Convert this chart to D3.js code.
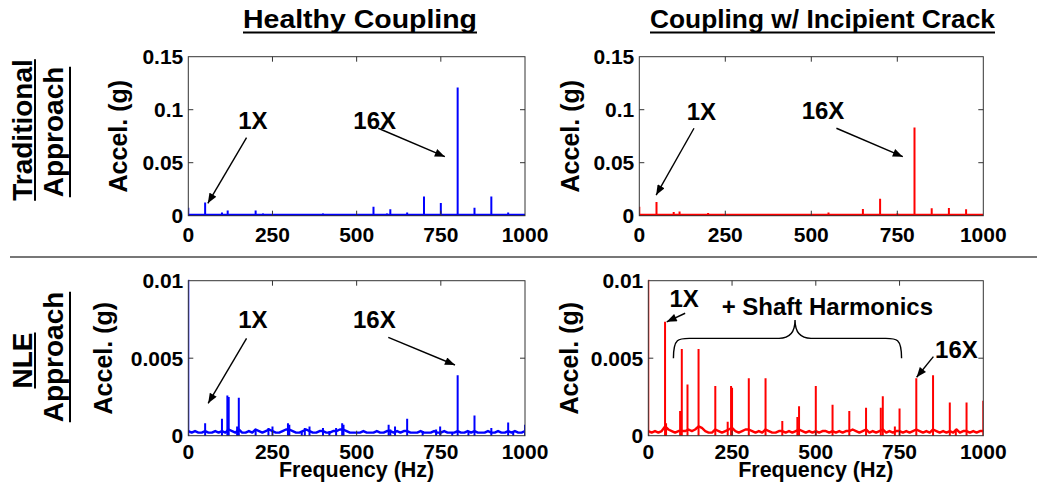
<!DOCTYPE html>
<html><head><meta charset="utf-8">
<script src="https://cdn.jsdelivr.net/npm/d3@7"></script>
<style>
html,body{margin:0;padding:0;background:#fff;}
text{font-family:"Liberation Sans",Arial,sans-serif;font-weight:bold;fill:#000;}
</style></head>
<body><svg id="c" width="1037" height="491"></svg>
<script>
// ---------- data ----------
const xTicks = [0, 250, 500, 750, 1000];
const xTickLabels = ["0", "250", "500", "750", "1000"];
const yTicksTop = [0, 0.05, 0.1, 0.15];
const yTickLabelsTop = ["0", "0.05", "0.1", "0.15"];
const yTicksBottom = [0, 0.005, 0.01];
const yTickLabelsBottom = ["0", "0.005", "0.01"];

const colTitles = ["Healthy Coupling", "Coupling w/ Incipient Crack"];
const rowTitles = [["Traditional", "Approach"], ["NLE", "Approach"]];
const yLabel = "Accel. (g)";
const xLabel = "Frequency (Hz)";

// Traditional, healthy (blue)
const tlPeakFreq = [0, 50, 100, 117, 200, 222, 400, 550, 590, 600, 650, 700, 750, 800, 850, 900, 950];
const tlPeakAmp  = [0.0075, 0.0125, 0.003, 0.005, 0.005, 0.002, 0.002, 0.0085, 0.002, 0.006, 0.003, 0.018, 0.012, 0.121, 0.0075, 0.018, 0.003];
const tlFloor = [0.0008, 0.0008];

// Traditional, cracked (red)
const trPeakFreq = [0, 50, 100, 117, 200, 550, 600, 650, 700, 750, 800, 850, 900, 950];
const trPeakAmp  = [0.0085, 0.013, 0.0035, 0.004, 0.0025, 0.003, 0.0015, 0.0063, 0.016, 0.002, 0.0833, 0.007, 0.0072, 0.006];
const trFloor = [0.0008, 0.0008];

// NLE, healthy (blue)
const blPeakFreq = [0, 50, 100, 116, 120, 145, 150, 200, 238, 250, 296, 300, 337, 346, 360, 400, 419, 439, 457, 461, 595, 600, 614, 650, 696, 736, 748, 784, 800, 832, 850, 900, 950, 965, 1000];
const blPeakAmp  = [0.012, 0.0008, 0.0011, 0.0026, 0.0025, 0.0006, 0.00245, 0.0004, 0.0005, 0.0006, 0.0008, 0.0007, 0.0003, 0.0005, 0.0006, 0.0005, 0.0003, 0.0005, 0.0008, 0.0007, 0.0007, 0.0004, 0.0006, 0.0011, 0.0003, 0.0004, 0.0006, 0.0002, 0.0039, 0.0003, 0.0013, 0.0005, 0.00085, 0.0003, 0.0007];
// noise floor, every 10 Hz from 0 to 1000
const blFloor = [0.0003,0.0002,0.0003,0.0002,0.0002,0.0003,0.0002,0.0002,0.0003,0.0002,
 0.0003,0.0002,0.0004,0.0003,0.0002,0.0004,0.0002,0.0002,0.0003,0.0002,
 0.0004,0.0003,0.0002,0.0003,0.0004,0.0003,0.0002,0.0002,0.0003,0.0004,
 0.0004,0.0003,0.0002,0.0002,0.0003,0.0004,0.0003,0.0002,0.0002,0.0003,
 0.0003,0.0002,0.0002,0.0003,0.0003,0.0004,0.0004,0.0003,0.0002,0.0002,
 0.0002,0.0002,0.0003,0.0002,0.0002,0.0002,0.0003,0.0002,0.0002,0.0003,
 0.0003,0.0002,0.0003,0.0002,0.0003,0.0003,0.0002,0.0002,0.0002,0.0003,
 0.0002,0.0002,0.0002,0.0003,0.0002,0.0002,0.0003,0.0002,0.0002,0.0002,
 0.0003,0.0002,0.0002,0.0003,0.0002,0.0003,0.0002,0.0002,0.0002,0.0003,
 0.0002,0.0002,0.0003,0.0002,0.0002,0.0003,0.0002,0.0003,0.0002,0.0002,
 0.0003];

// NLE, cracked (red)
const brPeakFreq = [0, 50, 53, 95, 100, 117, 150, 200, 237, 247, 250, 300, 350, 400, 445, 450, 500, 550, 600, 650, 694, 700, 736, 750, 800, 850, 900, 918, 950, 1000];
const brPeakAmp  = [0.012, 0.00735, 0.0008, 0.0016, 0.0056, 0.0033, 0.0056, 0.0032, 0.0009, 0.0032, 0.0031, 0.0037, 0.0037, 0.00095, 0.0012, 0.0019, 0.0032, 0.002, 0.0016, 0.0018, 0.0018, 0.00255, 0.0006, 0.00175, 0.0037, 0.0039, 0.00215, 0.0004, 0.00215, 0.00225];
const brFloor = [0.0003,0.0002,0.0003,0.0002,0.0003,0.0006,0.0004,0.0003,0.0002,0.0003,
 0.0003,0.0003,0.0004,0.0003,0.0004,0.0006,0.0005,0.0003,0.0002,0.0002,
 0.0004,0.0003,0.0002,0.0003,0.0004,0.0005,0.0003,0.0002,0.0003,0.0004,
 0.0004,0.0003,0.0002,0.0003,0.0002,0.0004,0.0003,0.0002,0.0002,0.0003,
 0.0003,0.0002,0.0003,0.0002,0.0003,0.0004,0.0003,0.0002,0.0003,0.0002,
 0.0003,0.0002,0.0003,0.0003,0.0002,0.0003,0.0002,0.0003,0.0002,0.0003,
 0.0003,0.0004,0.0003,0.0002,0.0003,0.0004,0.0002,0.0003,0.0002,0.0003,
 0.0004,0.0002,0.0003,0.0002,0.0003,0.0003,0.0002,0.0003,0.0002,0.0003,
 0.0004,0.0003,0.0002,0.0003,0.0002,0.0004,0.0003,0.0002,0.0003,0.0002,
 0.0003,0.0002,0.0004,0.0002,0.0003,0.0003,0.0002,0.0003,0.0002,0.0003,
 0.0003];

// annotations in data coordinates [freq, accel]
const tlNotes = [
  {t: "1X",  at: [148, 0.0815], from: [173, 0.0736], to: [58, 0.0117]},
  {t: "16X", at: [490, 0.0815], from: [564, 0.0825], to: [762, 0.0557]}];
const trNotes = [
  {t: "1X",  at: [138, 0.0903], from: [159, 0.0825], to: [49, 0.0195]},
  {t: "16X", at: [472, 0.0909], from: [573, 0.0825], to: [766, 0.0557]}];
const blNotes = [
  {t: "1X",  at: [148, 0.00693], from: [173, 0.00628], to: [59, 0.00209]},
  {t: "16X", at: [489, 0.00697], from: [594, 0.00635], to: [792, 0.00456]}];
const brNotes = [
  {t: "1X",  at: [63, 0.00828], from: [110, 0.0079], to: [55, 0.00735]},
  {t: "+ Shaft Harmonics", at: [219, 0.00779]},
  {t: "16X", at: [856, 0.00503], from: [851, 0.0051], to: [801, 0.00377]}];
const brBrace = {from: 75, to: 756, tip: 438, tipV: 0.00746, midV: 0.00628, endV: 0.005};

// ---------- drawing ----------
const svg = d3.select("#c");
svg.append("rect").attr("width", 1037).attr("height", 491).attr("fill", "#fff");
const defs = svg.append("defs");
defs.append("marker").attr("id", "ah").attr("viewBox", "0 0 10 8")
  .attr("refX", 10).attr("refY", 4).attr("markerWidth", 11).attr("markerHeight", 8)
  .attr("markerUnits", "userSpaceOnUse").attr("orient", "auto")
  .append("path").attr("d", "M0,0 L10,4 L0,8 Z").attr("fill", "#000");

function panel(id, box, yMax, yTicks, yTickLabels, color, peakF, peakA, floor, notes, ylabX, xTickOff, showXLabel) {
  const x = d3.scaleLinear().domain([0, 1000]).range([box.l, box.r]);
  const y = d3.scaleLinear().domain([0, yMax]).range([box.b, box.t]);
  const g = svg.append("g");
  defs.append("clipPath").attr("id", "clip" + id).append("rect")
    .attr("x", box.l).attr("y", box.t - 1).attr("width", box.r - box.l).attr("height", box.b - box.t + 2);
  const pg = g.append("g").attr("clip-path", "url(#clip" + id + ")");
  // noise floor
  const step = 1000 / (floor.length - 1);
  const line = d3.line().x((d, i) => x(i * step)).y(d => y(d));
  pg.append("path").attr("d", line(floor)).attr("fill", "none")
    .attr("stroke", color).attr("stroke-width", 2.4).attr("stroke-linejoin", "round");
  // spectral peaks
  pg.selectAll("line.pk").data(peakF).enter().append("line")
    .attr("x1", d => x(d)).attr("x2", d => x(d))
    .attr("y1", y(0)).attr("y2", (d, i) => y(peakA[i]))
    .attr("stroke", color).attr("stroke-width", 2);
  // box + ticks
  g.append("rect").attr("x", box.l).attr("y", box.t).attr("width", box.r - box.l).attr("height", box.b - box.t)
    .attr("fill", "none").attr("stroke", "#333").attr("stroke-width", 1);
  const tk = 5;
  xTicks.forEach((v, i) => {
    if (i > 0 && i < xTicks.length - 1) {
      g.append("line").attr("x1", x(v)).attr("x2", x(v)).attr("y1", box.b).attr("y2", box.b - tk).attr("stroke", "#333");
      g.append("line").attr("x1", x(v)).attr("x2", x(v)).attr("y1", box.t).attr("y2", box.t + tk).attr("stroke", "#333");
    }
    g.append("text").attr("x", x(v)).attr("y", box.b + xTickOff).attr("text-anchor", "middle")
      .attr("font-size", 21).text(xTickLabels[i]);
  });
  yTicks.forEach((v, i) => {
    if (i > 0 && i < yTicks.length - 1) {
      g.append("line").attr("x1", box.l).attr("x2", box.l + tk).attr("y1", y(v)).attr("y2", y(v)).attr("stroke", "#333");
      g.append("line").attr("x1", box.r).attr("x2", box.r - tk).attr("y1", y(v)).attr("y2", y(v)).attr("stroke", "#333");
    }
    g.append("text").attr("x", box.l - 5).attr("y", y(v)).attr("dy", "0.36em").attr("text-anchor", "end")
      .attr("font-size", 21).text(yTickLabels[i]);
  });
  // axis labels
  g.append("text").attr("transform", `translate(${ylabX},${(box.t + box.b) / 2}) rotate(-90)`)
    .attr("text-anchor", "middle").attr("font-size", 25).text(yLabel);
  if (showXLabel) {
    g.append("text").attr("x", (box.l + box.r) / 2).attr("y", box.b + 41).attr("text-anchor", "middle")
      .attr("font-size", 21.5).text(xLabel);
  }
  // annotations
  notes.forEach(n => {
    g.append("text").attr("x", x(n.at[0])).attr("y", y(n.at[1])).attr("font-size", 24).text(n.t);
    if (n.from) {
      g.append("line").attr("x1", x(n.from[0])).attr("y1", y(n.from[1]))
        .attr("x2", x(n.to[0])).attr("y2", y(n.to[1]))
        .attr("stroke", "#000").attr("stroke-width", 1.4).attr("marker-end", "url(#ah)");
    }
  });
  return {x, y, g};
}

const BL = 188.3, BR_ = 525, TRL = 639.3, TRR = 983.3, BRL = 648.3;
const topRow = {t: 56.7, b: 215.7}, botRow = {t: 280.7, b: 435.7};

panel("tl", {l: BL, r: BR_, t: topRow.t, b: topRow.b}, 0.15, yTicksTop, yTickLabelsTop, "#0000ff",
  tlPeakFreq, tlPeakAmp, tlFloor, tlNotes, 127, 26, false);
panel("tr", {l: TRL, r: TRR, t: topRow.t, b: topRow.b}, 0.15, yTicksTop, yTickLabelsTop, "#ff0000",
  trPeakFreq, trPeakAmp, trFloor, trNotes, 579, 26, false);
panel("bl", {l: BL, r: BR_, t: botRow.t, b: botRow.b}, 0.01, yTicksBottom, yTickLabelsBottom, "#0000ff",
  blPeakFreq, blPeakAmp, blFloor, blNotes, 112, 23.5, true);
const pbr = panel("br", {l: BRL, r: TRR, t: botRow.t, b: botRow.b}, 0.01, yTicksBottom, yTickLabelsBottom, "#ff0000",
  brPeakFreq, brPeakAmp, brFloor, brNotes, 578, 23.5, true);

// curly brace over the shaft harmonics
{
  const x = pbr.x, y = pbr.y, b = brBrace;
  const x0 = x(b.from), x1 = x(b.to), xt = x(b.tip);
  const ye = y(b.endV), ym = y(b.midV), yt = y(b.tipV);
  const d = `M${x0},${ye} C${x0},${ym - 2} ${x0 + 6},${ym} ${x0 + 20},${ym} L${xt - 16},${ym}` +
    ` C${xt - 6},${ym} ${xt},${ym - 6} ${xt},${yt} C${xt},${ym - 6} ${xt + 6},${ym} ${xt + 16},${ym}` +
    ` L${x1 - 20},${ym} C${x1 - 6},${ym} ${x1},${ym - 2} ${x1},${ye}`;
  pbr.g.append("path").attr("d", d).attr("fill", "none").attr("stroke", "#000").attr("stroke-width", 1.4);
}

// column titles
const titleSpec = [{cx: 360, len: 234}, {cx: 822.5, len: 345}];
colTitles.forEach((t, i) => {
  const s = titleSpec[i];
  svg.append("text").attr("x", s.cx).attr("y", 28).attr("text-anchor", "middle").attr("font-size", 26)
    .attr("textLength", s.len).attr("lengthAdjust", "spacingAndGlyphs").text(t);
  svg.append("line").attr("x1", s.cx - s.len / 2).attr("x2", s.cx + s.len / 2).attr("y1", 32.5).attr("y2", 32.5)
    .attr("stroke", "#000").attr("stroke-width", 2);
});

// row titles
const rowSpec = [
  [{bx: 32, ux: 35, cy: 130}, {bx: 63, ux: 70, cy: 132}],
  [{bx: 32, ux: 35, cy: 360.5}, {bx: 63, ux: 70, cy: 357}]];
rowTitles.forEach((pair, r) => {
  pair.forEach((t, k) => {
    const s = rowSpec[r][k];
    const txt = svg.append("text").attr("transform", `translate(${s.bx},${s.cy}) rotate(-90)`)
      .attr("text-anchor", "middle").attr("font-size", 28).text(t);
    const w = txt.node().getComputedTextLength();
    svg.append("line").attr("x1", s.ux).attr("x2", s.ux).attr("y1", s.cy - w / 2).attr("y2", s.cy + w / 2)
      .attr("stroke", "#000").attr("stroke-width", 2);
  });
});

// separator between rows
svg.append("line").attr("x1", 10).attr("x2", 1037).attr("y1", 257).attr("y2", 257)
  .attr("stroke", "#777").attr("stroke-width", 2);
</script></body></html>
